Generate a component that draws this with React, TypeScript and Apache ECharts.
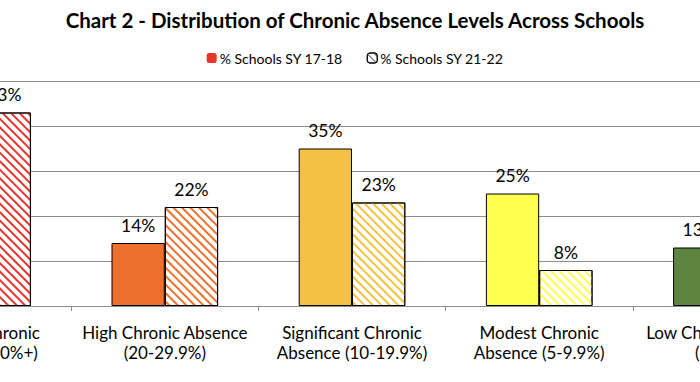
import React, { useEffect, useRef } from "react";
import * as echarts from "echarts";

const categories = [
  "Extreme Chronic\nAbsence (30%+)",
  "High Chronic Absence\n(20-29.9%)",
  "Significant Chronic\nAbsence (10-19.9%)",
  "Modest Chronic\nAbsence (5-9.9%)",
  "Low Chronic Absence\n(0-4.9%)",
];
const seriesNames = ["% Schools SY 17-18", "% Schools SY 21-22"];
const sy1718 = [13, 14, 35, 25, 13];
const sy2122 = [43, 22, 23, 8, 4];
const levelColors = ["#E8352B", "#ED7031", "#F4C142", "#FFFF4F", "#5F8442"];
const yTicks = [0, 10, 20, 30, 40, 50];

const FONT = "Lato";

export default function App() {
  const ref = useRef<HTMLDivElement>(null);
  useEffect(() => {
    if (!ref.current) return;
    const chart = echarts.init(ref.current, undefined, { renderer: "svg" });
    const decalBase = {
      symbol: "rect",
      symbolSize: 1,
      dashArrayX: [1, 0],
      dashArrayY: [1.3, 3.3],
      rotation: Math.PI / 4,
    };
    const labelStyle = {
      show: true,
      position: "top",
      distance: 9,
      formatter: "{c}%",
      fontFamily: FONT,
      fontSize: 17.5,
      color: "#000",
    };
    chart.setOption({
      animation: false,
      backgroundColor: "#fff",
      title: {
        text: "Chart 2 - Distribution of Chronic Absence Levels Across Schools",
        left: "center",
        top: 4,
        textStyle: { fontFamily: FONT, fontWeight: "bold", fontSize: 20.5, color: "#000" },
      },
      legend: {
        top: 46,
        left: "center",
        itemWidth: 10,
        itemHeight: 10,
        itemGap: 24,
        textStyle: { fontFamily: FONT, fontSize: 14, color: "#000", padding: [0, 0, 0, -2] },
        data: [
          { name: seriesNames[0], itemStyle: { color: levelColors[0], borderWidth: 0 } },
          {
            name: seriesNames[1],
            itemStyle: {
              color: "#fff",
              borderColor: "#000",
              borderWidth: 1,
              decal: { symbol: "rect", symbolSize: 1, dashArrayX: [1, 0], dashArrayY: [1, 3.5], rotation: Math.PI / 4, color: "#555" },
            },
          },
        ],
      },
      grid: { left: 44, right: 50, top: 81, bottom: 76 },
      xAxis: {
        type: "category",
        data: categories,
        axisLine: { lineStyle: { color: "#8c8c8c", width: 1 } },
        axisTick: { show: true, length: 5, lineStyle: { color: "#8c8c8c" } },
        axisLabel: {
          interval: 0,
          margin: 16,
          fontFamily: FONT,
          fontSize: 17,
          lineHeight: 20,
          color: "#000",
        },
      },
      yAxis: {
        type: "value",
        min: yTicks[0],
        max: yTicks[yTicks.length - 1],
        interval: 10,
        axisLabel: { show: false },
        axisLine: { show: false },
        axisTick: { show: false },
        splitLine: { lineStyle: { color: "#8c8c8c", width: 1 } },
      },
      series: [
        {
          name: seriesNames[0],
          type: "bar",
          barWidth: 53.3,
          barGap: "0%",
          itemStyle: { color: levelColors[0], borderColor: "#000", borderWidth: 1 },
          label: labelStyle,
          data: sy1718.map((v, i) => ({
            value: v,
            itemStyle: { color: levelColors[i], borderColor: "#000", borderWidth: 1 },
          })),
        },
        {
          name: seriesNames[1],
          type: "bar",
          barWidth: 53.3,
          barGap: "0%",
          itemStyle: {
            color: "#fff",
            borderColor: "#000",
            borderWidth: 1,
            decal: { ...decalBase, color: "#000" },
          },
          label: labelStyle,
          data: sy2122.map((v, i) => ({
            value: v,
            itemStyle: {
              color: "#fff",
              borderColor: "#000",
              borderWidth: 1,
              decal: { ...decalBase, color: levelColors[i] },
            },
          })),
        },
      ],
    });
    return () => chart.dispose();
  }, []);
  return (
    <div
      style={{
        position: "fixed",
        left: 0,
        top: 0,
        width: 700,
        height: 382,
        overflow: "hidden",
        background: "#fff",
      }}
    >
      <div
        ref={ref}
        style={{ position: "absolute", left: -160, top: 0, width: 1030, height: 382 }}
      />
    </div>
  );
}
